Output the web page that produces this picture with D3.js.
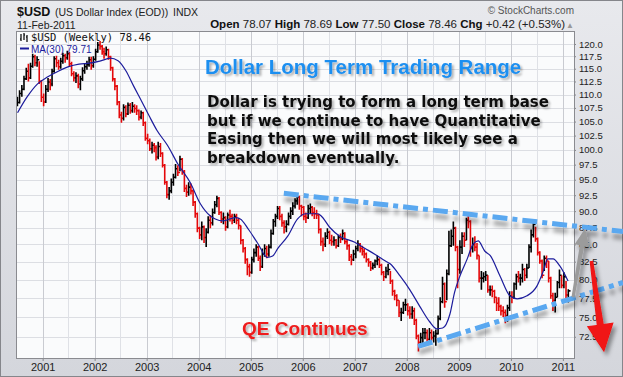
<!DOCTYPE html>
<html>
<head>
<meta charset="utf-8">
<script src="https://cdn.jsdelivr.net/npm/d3@7"></script>
<style>
  body { margin: 0; background: #fff; }
  svg { display: block; font-family: "Liberation Sans", Arial, sans-serif; }
</style>
</head>
<body>
<svg width="623" height="377"></svg>
<script>
// Weekly $USD, two bars per month (high, low, close)
const bars2000 = [[109.6,107.8,108.5],[110.8,108.3,110.2],[111.8,109.6,111.0],[113.6,110.8,113.0],[115.2,112.8,114.5],[116.0,112.5,113.2],[116.2,113.0,115.5],[118.0,115.2,117.4],[117.8,115.5,116.2],[117.5,115.4,116.8],[116.5,112.0,112.5],[112.8,108.6,109.5]];
const bars2001 = [[110.2,107.8,108.6],[111.8,108.4,111.0],[113.2,110.5,112.4],[113.0,110.8,112.0],[115.0,111.6,114.5],[117.5,114.2,117.0],[117.6,115.3,116.2],[116.8,114.8,115.4],[117.2,115.0,116.5],[118.2,116.0,117.6],[118.0,116.2,117.2],[118.6,116.8,118.0],[118.3,115.5,116.0],[116.4,113.5,114.0],[114.5,112.5,113.2],[114.3,112.2,113.6],[114.0,111.2,112.0],[113.6,110.8,113.0],[115.3,112.6,114.6],[116.0,114.0,115.4],[116.6,114.8,115.8],[117.4,115.4,116.8],[117.4,114.8,115.6],[117.5,115.2,116.9]];
const bars2002 = [[119.0,116.6,118.4],[120.4,118.2,119.8],[120.6,118.8,119.5],[119.8,117.8,118.4],[119.2,117.0,118.0],[119.5,117.6,118.8],[119.0,116.8,117.4],[117.6,114.6,115.2],[115.4,112.5,113.0],[113.2,110.8,111.6],[111.8,108.0,108.6],[108.8,105.6,106.2],[106.8,104.8,105.6],[108.2,105.2,107.6],[108.0,105.8,106.4],[108.5,106.2,108.0],[108.4,106.4,107.0],[108.6,106.6,107.8],[108.2,106.6,107.4],[108.0,106.2,107.0],[107.2,105.2,105.8],[107.0,105.4,106.6],[106.8,104.2,104.8],[105.0,101.6,102.0]];
const bars2003 = [[102.8,101.0,101.6],[102.0,99.8,100.2],[101.4,99.4,100.8],[101.2,99.6,100.4],[100.8,98.2,98.8],[101.4,98.4,100.6],[101.2,98.8,99.4],[99.6,97.0,97.4],[97.6,94.2,94.6],[94.8,92.0,92.6],[93.8,91.8,93.2],[95.2,92.8,94.6],[96.0,94.0,95.4],[97.6,95.2,96.8],[97.4,95.6,96.2],[99.0,96.4,98.4],[98.6,95.8,96.4],[96.6,93.0,93.6],[94.2,92.2,93.0],[94.6,92.4,93.8],[94.4,92.6,93.2],[93.4,90.8,91.4],[91.6,89.0,89.6],[89.8,86.8,87.4]];
const bars2004 = [[87.6,85.8,86.4],[88.4,85.6,87.6],[87.8,85.2,86.0],[87.4,84.6,86.8],[89.2,86.6,88.6],[89.4,87.4,88.2],[90.4,87.8,89.8],[91.6,89.6,91.0],[92.4,90.6,92.0],[92.2,89.4,89.8],[90.0,88.2,88.8],[89.8,88.0,89.0],[89.2,87.0,87.6],[89.8,87.4,89.4],[90.2,88.4,89.2],[89.6,88.0,88.6],[89.6,88.2,89.2],[89.6,88.0,88.6],[89.0,87.2,87.8],[87.8,85.0,85.6],[85.8,83.8,84.4],[84.6,82.2,82.8],[83.0,80.6,81.8],[82.2,80.4,81.0]];
const bars2005 = [[83.2,80.8,82.8],[84.4,82.4,83.8],[85.0,83.2,84.6],[84.8,82.6,83.0],[83.4,81.2,81.8],[84.4,81.6,83.6],[85.0,83.2,84.4],[84.8,83.0,83.6],[85.0,83.2,84.6],[87.2,84.4,86.6],[88.8,86.4,88.4],[89.6,87.6,89.2],[90.8,88.8,90.4],[90.8,88.6,89.2],[89.6,87.6,88.2],[88.6,86.6,87.6],[88.6,86.8,88.0],[89.8,87.8,89.2],[90.6,88.8,90.0],[91.4,89.4,90.8],[92.0,90.4,91.6],[92.8,91.0,92.2],[92.4,90.2,90.8],[91.0,89.2,90.6]];
const bars2006 = [[90.8,88.6,89.2],[89.8,88.2,89.0],[91.0,88.8,90.4],[91.2,89.6,90.6],[90.8,89.2,89.8],[90.6,88.8,89.6],[90.2,88.8,89.4],[89.6,86.6,87.2],[87.4,84.8,85.4],[86.0,84.0,85.0],[86.8,84.6,86.2],[87.4,85.8,86.8],[87.0,85.0,85.6],[86.4,84.8,85.4],[86.2,84.8,85.6],[85.8,84.4,84.8],[86.4,84.6,86.0],[86.6,85.2,85.8],[87.2,85.6,86.6],[86.8,85.0,85.4],[85.8,84.2,84.8],[85.0,82.6,83.2],[83.6,82.0,82.8],[84.2,82.6,83.6]];
const bars2007 = [[84.8,83.0,84.4],[85.6,84.0,85.0],[85.2,83.8,84.4],[84.8,83.4,84.0],[84.4,83.0,83.6],[83.8,82.4,82.8],[83.0,81.8,82.4],[82.6,81.2,81.6],[82.4,81.4,82.0],[82.8,81.6,82.6],[83.4,82.0,82.8],[83.0,81.6,82.0],[82.2,80.6,81.0],[81.2,79.8,80.4],[81.8,80.2,81.2],[82.2,80.6,81.4],[81.2,79.4,79.8],[80.0,77.8,78.4],[78.6,77.2,77.8],[78.0,76.4,77.2],[77.2,75.0,75.6],[76.2,74.5,75.6],[77.0,75.4,76.6],[77.4,75.8,76.6]];
const bars2008 = [[76.8,75.2,75.8],[76.4,74.8,75.4],[76.4,74.8,75.8],[76.2,74.0,74.6],[74.8,72.2,72.6],[72.8,70.7,71.8],[73.0,71.2,72.4],[73.6,71.6,73.0],[73.6,72.2,73.0],[73.4,71.8,72.2],[73.6,72.0,73.0],[73.4,72.0,72.4],[73.2,71.8,72.6],[73.4,71.4,72.9],[75.2,72.8,74.8],[77.6,74.6,77.0],[80.4,76.8,79.4],[79.6,76.2,77.0],[81.4,77.2,80.8],[87.0,80.6,84.8],[87.2,84.6,86.2],[88.4,84.8,87.4],[87.6,84.0,84.6],[84.8,78.8,81.4]];
const bars2009 = [[85.6,80.8,84.6],[86.8,83.6,86.2],[86.8,84.6,85.6],[89.0,85.6,88.6],[89.6,87.4,88.4],[88.6,83.2,84.4],[86.0,83.8,85.0],[86.2,84.0,84.6],[85.2,82.8,83.4],[83.4,79.6,80.2],[81.2,78.6,80.2],[81.0,79.6,80.4],[81.2,79.8,80.6],[80.6,78.2,78.6],[79.2,77.8,78.6],[79.2,77.6,78.4],[78.6,76.8,77.6],[77.6,75.8,76.8],[77.6,75.8,76.4],[76.6,75.2,75.8],[76.4,75.0,75.6],[76.0,74.2,75.2],[76.6,74.4,76.2],[78.4,75.8,77.8]];
const bars2010 = [[78.4,76.8,77.6],[79.6,77.4,79.4],[80.8,78.6,80.4],[81.2,79.6,80.2],[80.8,79.2,80.2],[82.2,79.6,81.4],[81.6,79.8,80.6],[82.2,80.2,81.6],[85.0,81.6,84.6],[87.2,83.8,86.4],[88.7,86.0,88.0],[87.6,85.4,85.8],[86.0,83.4,83.8],[84.0,82.2,82.6],[82.8,80.2,80.6],[83.4,81.2,83.0],[83.4,81.6,82.6],[82.6,79.6,80.2],[80.4,77.4,77.8],[78.2,75.8,77.2],[78.2,75.6,77.6],[79.8,77.6,79.6],[81.4,78.8,80.6],[80.6,78.8,79.2]];
const bars2011 = [[81.0,78.8,80.4],[79.8,77.2,77.9],[78.69,76.9,78.46]];

// 30-week moving average [year, value]
const maPoints = [[2000.52,106.6],[2000.70,109.5],[2000.90,112.0],[2001.10,113.4],[2001.30,114.5],[2001.50,115.4],[2001.70,115.9],[2001.90,116.1],[2002.10,116.5],[2002.30,117.1],[2002.45,116.6],[2002.60,114.6],[2002.75,111.6],[2002.90,108.8],[2003.05,106.0],[2003.20,103.4],[2003.40,100.8],[2003.60,97.6],[2003.84,94.5],[2004.03,91.2],[2004.22,89.3],[2004.32,88.8],[2004.47,88.5],[2004.70,89.0],[2004.80,88.8],[2004.96,87.2],[2005.13,85.2],[2005.32,83.1],[2005.42,83.3],[2005.52,84.4],[2005.71,86.2],[2005.90,88.8],[2006.06,89.6],[2006.29,89.6],[2006.35,89.3],[2006.52,87.5],[2006.71,86.2],[2007.00,85.3],[2007.20,84.4],[2007.40,83.5],[2007.59,82.6],[2007.68,82.2],[2007.87,80.5],[2008.06,78.6],[2008.25,76.4],[2008.44,74.4],[2008.58,73.5],[2008.69,73.6],[2008.83,75.4],[2008.92,78.3],[2009.02,80.5],[2009.16,82.9],[2009.27,85.0],[2009.37,85.5],[2009.50,84.0],[2009.60,83.4],[2009.79,80.5],[2009.98,77.8],[2010.12,77.4],[2010.31,77.8],[2010.50,79.1],[2010.62,81.1],[2010.71,82.9],[2010.81,82.9],[2010.94,81.9],[2011.10,79.8]];

const yTicks = [72.5,75,77.5,80,82.5,85,87.5,90,92.5,95,97.5,100,102.5,105,107.5,110,112.5,115,117.5,120];
const yearLabels = ["2001","2002","2003","2004","2005","2006","2007","2008","2009","2010","2011"];

// hand-drawn annotations, in [date, value]
const upperTrend = [["2005-08-21", 92.8], ["2012-02-27", 86.9]];
const lowerTrend = [["2008-03-20", 71.3], ["2012-02-27", 79.6]];
const grayArrow = [["2011-03-13", 77.6], ["2011-06-05", 87.3]];
const redArrow = [["2011-07-20", 82.6], ["2011-10-17", 70.6]];

const noteLines = ["Dollar is trying to form a long term base",
                   "but if we continue to have Quantitative",
                   "Easing then we will most likely see a",
                   "breakdown eventually."];

const W = 623, H = 377;
const plot = {left: 17, top: 32, right: 574, bottom: 358};

const svg = d3.select("svg");
const defs = svg.append("defs");

const grad = defs.append("linearGradient").attr("id", "bg")
    .attr("x1", 0).attr("y1", 0).attr("x2", 0).attr("y2", 1);
grad.append("stop").attr("offset", "0%").attr("stop-color", "#e8e9ed");
grad.append("stop").attr("offset", "100%").attr("stop-color", "#d4d6dc");

function shadow(id, dx, dy, sd, op) {
  defs.append("filter").attr("id", id)
      .attr("filterUnits", "userSpaceOnUse")
      .attr("x", 0).attr("y", 0).attr("width", W).attr("height", H)
    .append("feDropShadow")
      .attr("dx", dx).attr("dy", dy).attr("stdDeviation", sd)
      .attr("flood-color", "#000").attr("flood-opacity", op);
}
shadow("txtShadow", 2, 2, 1.2, 0.3);
shadow("lineShadow", 1, 6, 2, 0.35);
shadow("arrowShadow", 3, 4, 2, 0.4);

defs.append("clipPath").attr("id", "plotClip")
  .append("rect")
    .attr("x", plot.left).attr("y", plot.top)
    .attr("width", plot.right - plot.left).attr("height", plot.bottom - plot.top);

// Scales
const x = d3.scaleTime()
    .domain([new Date(2000, 6, 5), new Date(2011, 2, 20)])
    .range([plot.left, plot.right]);

const y = d3.scaleLog()
    .domain([69.9, 122.5])
    .range([plot.bottom, plot.top]);

const parse = d3.timeParse("%Y-%m-%d");
function yearDate(yr) {
  const base = Math.floor(yr);
  return new Date(new Date(base, 0, 1).getTime() + (yr - base) * 365.25 * 864e5);
}

// Build bar table
const allBars = [].concat(bars2000, bars2001, bars2002, bars2003, bars2004, bars2005,
                          bars2006, bars2007, bars2008, bars2009, bars2010, bars2011);
const bars = allBars.map((b, i) => ({
  date: new Date(2000, 6 + Math.floor(i / 2), i % 2 ? 23 : 8),
  high: b[0], low: b[1], close: b[2],
  up: i === 0 || b[2] >= allBars[i - 1][2]
}));

// Background and frame
svg.append("rect")
    .attr("x", 0.5).attr("y", 0.5).attr("width", W - 1).attr("height", H - 1)
    .attr("fill", "url(#bg)").attr("stroke", "#85868b");

svg.append("rect")
    .attr("x", plot.left).attr("y", plot.top)
    .attr("width", plot.right - plot.left).attr("height", plot.bottom - plot.top)
    .attr("fill", "#fafbfc");

// Grid
const grid = svg.append("g");
grid.selectAll(".hg")
  .data(yTicks)
  .enter().append("line")
    .attr("x1", plot.left).attr("x2", plot.right)
    .attr("y1", d => Math.round(y(d)) + 0.5).attr("y2", d => Math.round(y(d)) + 0.5)
    .attr("stroke", "#dcdee3");

grid.selectAll(".vg")
  .data(d3.timeMonth.every(6).range(new Date(2000, 6, 6), new Date(2011, 2, 20)))
  .enter().append("line")
    .attr("x1", d => Math.round(x(d)) + 0.5).attr("x2", d => Math.round(x(d)) + 0.5)
    .attr("y1", plot.top).attr("y2", plot.bottom)
    .attr("stroke", d => d.getMonth() === 0 ? "#c9cbd1" : "#dfe1e6");

// Axes
const yAxis = svg.append("g")
    .attr("transform", `translate(${plot.right},0)`)
    .call(d3.axisRight(y).tickValues(yTicks).tickFormat(d3.format(".1f")).tickSize(2).tickPadding(3));
yAxis.select(".domain").remove();
yAxis.selectAll("line").attr("stroke", "#888");
yAxis.selectAll("text")
    .attr("font-family", "'Liberation Sans', Arial, sans-serif")
    .attr("font-size", 9.5).attr("fill", "#222");

const xAxis = svg.append("g")
    .attr("transform", `translate(0,${plot.bottom})`)
    .call(d3.axisBottom(x)
      .tickValues(yearLabels.map(s => new Date(+s, 0, 1)))
      .tickFormat(d3.timeFormat("%Y")).tickSize(3).tickPadding(2));
xAxis.select(".domain").remove();
xAxis.selectAll("line").attr("stroke", "#888");
xAxis.selectAll("text")
    .attr("font-family", "'Liberation Sans', Arial, sans-serif")
    .attr("font-size", 11).attr("fill", "#222");

// OHLC bars
const barG = svg.append("g").attr("clip-path", "url(#plotClip)");
barG.selectAll("path")
  .data(bars)
  .enter().append("path")
    .attr("d", d => {
      const bx = x(d.date);
      const cy = y(d.close);
      return `M${bx},${y(d.high)}V${y(d.low)}M${bx},${cy}H${bx + 2.2}`;
    })
    .attr("stroke", d => d.up ? "#000" : "#e4080a")
    .attr("stroke-width", 1.6)
    .attr("fill", "none");

// MA(30)
svg.append("path")
    .datum(maPoints)
    .attr("clip-path", "url(#plotClip)")
    .attr("d", d3.line()
      .x(d => x(yearDate(d[0])))
      .y(d => y(d[1]))
      .curve(d3.curveMonotoneX))
    .attr("fill", "none")
    .attr("stroke", "#1c1c9c")
    .attr("stroke-width", 1.2);

// Plot border
svg.append("rect")
    .attr("x", plot.left - 0.5).attr("y", plot.top - 0.5)
    .attr("width", plot.right - plot.left + 1).attr("height", plot.bottom - plot.top + 1)
    .attr("fill", "none").attr("stroke", "#8a8b90");

// Legend
const leg = svg.append("g");
leg.append("path")
    .attr("d", "M21,34V41M20,39H21M24,33V40M24,35H25M27,35V42M26,37H27")
    .attr("stroke", "#000").attr("stroke-width", 1.2).attr("fill", "none");
leg.append("text")
    .attr("x", 31).attr("y", 40.5)
    .attr("font-family", "'DejaVu Sans Mono', monospace")
    .attr("font-size", 10.5).attr("fill", "#111")
    .text("$USD (Weekly) 78.46");
leg.append("line")
    .attr("x1", 20).attr("x2", 29).attr("y1", 48.5).attr("y2", 48.5)
    .attr("stroke", "#1c1c9c").attr("stroke-width", 2);
leg.append("text")
    .attr("x", 31).attr("y", 52.5)
    .attr("font-size", 10).attr("fill", "#1c1c9c")
    .text("MA(30) 79.71");

// Header
svg.append("text").attr("x", 17).attr("y", 15.5)
    .attr("font-size", 12.5).attr("font-weight", "bold").attr("fill", "#111")
    .text("$USD");
svg.append("text").attr("x", 55).attr("y", 15.5)
    .attr("font-size", 10.5).attr("fill", "#222")
    .text("(US Dollar Index (EOD))");
svg.append("text").attr("x", 173).attr("y", 15.5)
    .attr("font-size", 10.5).attr("fill", "#222")
    .text("INDX");
svg.append("text").attr("x", 17).attr("y", 28.5)
    .attr("font-size", 10.5).attr("fill", "#222")
    .text("11-Feb-2011");
svg.append("text").attr("x", 574).attr("y", 14)
    .attr("text-anchor", "end")
    .attr("font-size", 10).attr("fill", "#555")
    .text("\u00A9 StockCharts.com");

const quote = [["Open", "78.07"], ["High", "78.69"], ["Low", "77.50"], ["Close", "78.46"], ["Chg", "+0.42 (+0.53%)"]];
const qt = svg.append("text").attr("x", 565).attr("y", 28)
    .attr("text-anchor", "end").attr("font-size", 11.5).attr("fill", "#111");
quote.forEach((q, i) => {
  qt.append("tspan").attr("font-weight", "bold").text((i ? " " : "") + q[0]);
  qt.append("tspan").attr("fill", "#222").text(" " + q[1]);
});
svg.append("text").attr("x", 566).attr("y", 27.5)
    .attr("font-size", 8).attr("fill", "#999").text("\u25B2");

// Trend lines
[upperTrend, lowerTrend].forEach(t => {
  svg.append("line")
      .attr("x1", x(parse(t[0][0]))).attr("y1", y(t[0][1]))
      .attr("x2", x(parse(t[1][0]))).attr("y2", y(t[1][1]))
      .attr("stroke", "#5aa8f0")
      .attr("stroke-width", 5)
      .attr("stroke-dasharray", "15,5,5,5")
      .attr("filter", "url(#lineShadow)");
});

// Arrows
function arrow(pts, tailW, shaftW, headLen, headW, color) {
  const x0 = x(parse(pts[0][0])), y0 = y(pts[0][1]);
  const x1 = x(parse(pts[1][0])), y1 = y(pts[1][1]);
  const len = Math.hypot(x1 - x0, y1 - y0);
  const ux = (x1 - x0) / len, uy = (y1 - y0) / len;
  const px = -uy, py = ux;
  const bx = x1 - ux * headLen, by = y1 - uy * headLen;
  const p = [
    [x0 + px * tailW / 2, y0 + py * tailW / 2],
    [bx + px * shaftW / 2, by + py * shaftW / 2],
    [bx + px * headW / 2, by + py * headW / 2],
    [x1, y1],
    [bx - px * headW / 2, by - py * headW / 2],
    [bx - px * shaftW / 2, by - py * shaftW / 2],
    [x0 - px * tailW / 2, y0 - py * tailW / 2]
  ];
  svg.append("path")
      .attr("d", "M" + p.join("L") + "Z")
      .attr("fill", color)
      .attr("filter", "url(#arrowShadow)");
}
arrow(grayArrow, 3, 4.5, 17, 15, "#9b9b9b");
arrow(redArrow, 3.5, 7, 28, 27, "#f01212");

// Notes
svg.append("text")
    .attr("x", 205).attr("y", 74)
    .attr("font-size", 20.5).attr("font-weight", "bold")
    .attr("fill", "#1f8ff0")
    .attr("filter", "url(#txtShadow)")
    .text("Dollar Long Term Trading Range");

svg.append("g")
    .attr("filter", "url(#txtShadow)")
  .selectAll("text")
  .data(noteLines)
  .enter().append("text")
    .attr("x", 207)
    .attr("y", (d, i) => 107 + i * 18.5)
    .attr("font-family", "'DejaVu Sans', sans-serif")
    .attr("font-size", 15).attr("font-weight", "bold")
    .attr("fill", "#111")
    .text(d => d);

svg.append("text")
    .attr("x", 242).attr("y", 335)
    .attr("font-size", 19).attr("font-weight", "bold")
    .attr("fill", "#ee1c1c")
    .attr("filter", "url(#txtShadow)")
    .text("QE Continues");
</script>
</body>
</html>
